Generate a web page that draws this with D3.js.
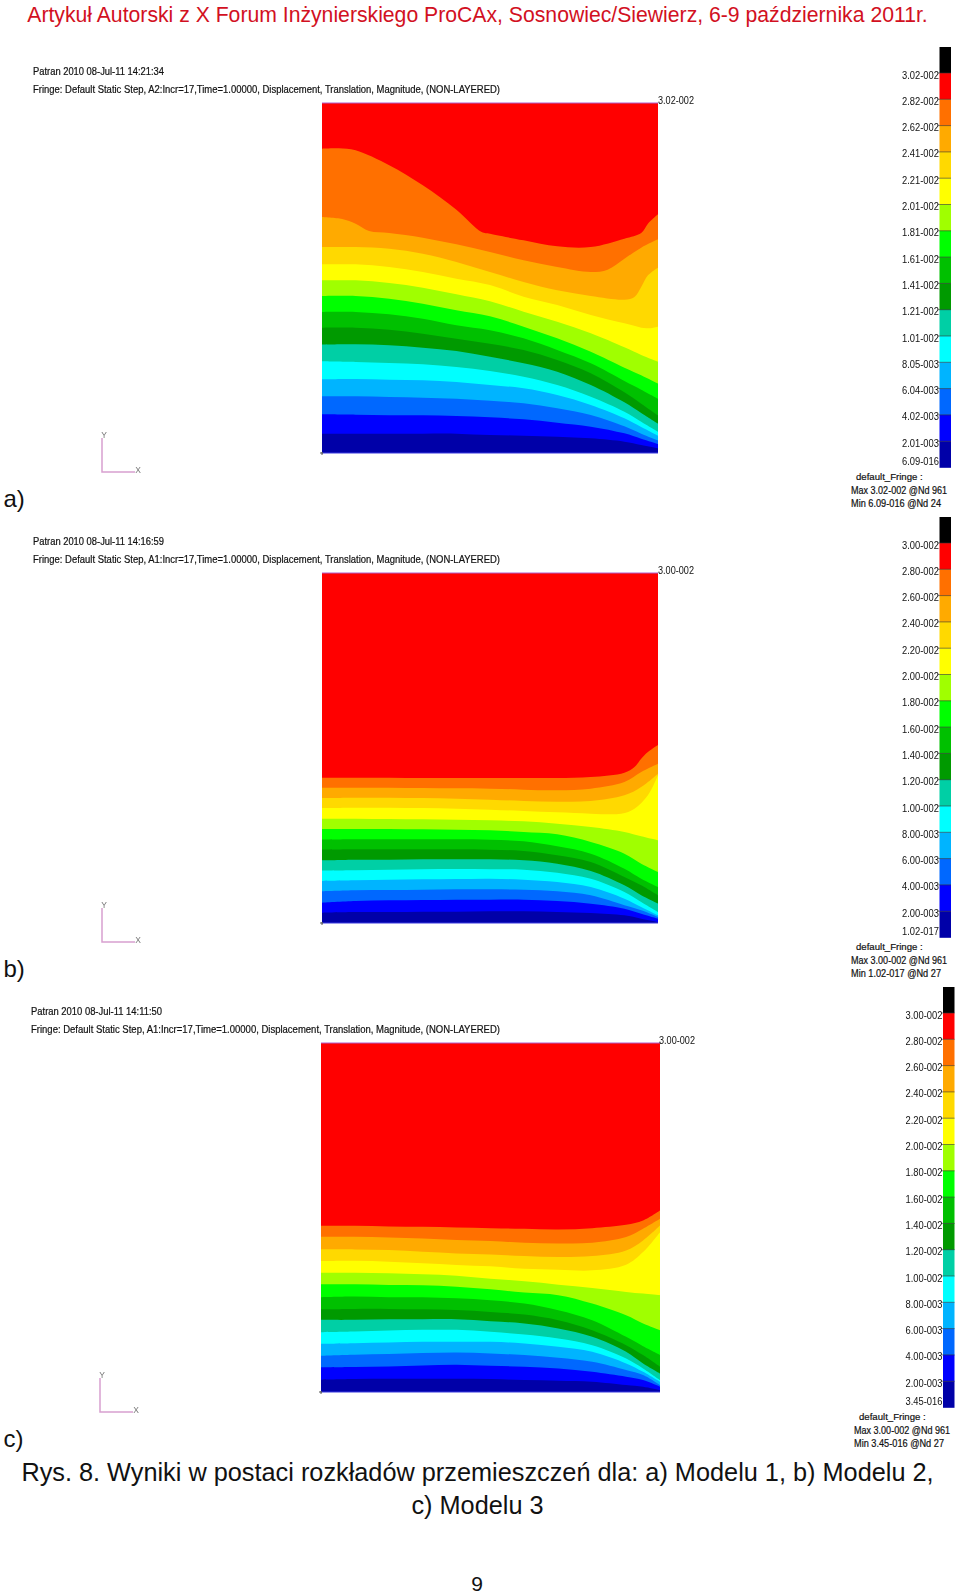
<!DOCTYPE html>
<html><head><meta charset="utf-8">
<script src="https://cdn.jsdelivr.net/npm/d3@7/dist/d3.min.js"></script>
<style>html,body{margin:0;padding:0;background:#fff}svg{display:block}text{font-family:"Liberation Sans",Arial,sans-serif}.soft{filter:blur(0.35px)}</style>
</head><body><div id="c"></div>
<script>
// ---------- data ----------
const fringeColours = ["#ff0000","#ff7000","#ffaa00","#ffd900","#ffff00","#a0ff00","#00ff00","#00c000","#009a00","#00cfa5","#00ffff","#00b4ff","#0068ff","#0000ff","#0000a8"];
const stations = [0,10,20,30,40,50,60,70,80,90,95,100];

// Model 1: contour heights (0..1050 model units) at stations along the width
const a1x = [0,5,10,20,30,40,47.5,50,60,70,80,90,95,97,100];
const a1y = [913,914,908,863,803,730,663,658,638,620,618,643,660,688,716];
const a2x = [0,6,10,14,20,30,40,50,60,70,80,85,90,95,100];
const a2y = [708,702,688,666,660,646,626,603,578,558,543,550,583,616,641];
const a3x = [0,10,20,30,40,50,60,70,80,90,93,95,97,100];
const a3y = [618,618,613,598,573,543,513,488,471,460,468,498,533,556];
const a4x = [0,10,20,30,40,50,60,70,80,90,96.5,100];
const a4y = [566,566,558,543,523,504,469,444,414,389,374,379];
const a5y = [518,518,510,496,476,455,424,394,359,317,294,274];
const a6y = [471,471,463,448,428,410,379,344,304,256,233,208];
const a7y = [423,423,416,403,383,368,344,309,269,216,190,163];
const a8y = [376,376,370,358,343,328,309,279,239,182,148,113];
const a9y = [325,326,323,316,306,289,269,244,204,152,120,88];
const a10y = [275,273,270,266,258,246,229,204,169,124,94,64];
const a11y = [221,222,220,218,213,204,194,174,144,104,78,52];
const a12y = [170,170,168,166,163,157,149,134,114,80,58,38];
const a13y = [116,115,113,113,111,107,101,91,79,59,43,27];
const a14y = [58,58,58,58,58,54,52,49,44,34,24,14];

// Model 2
const b1x = [0,10,20,30,40,50,60,70,80,90,93,95,97,100];
const b1y = [436,436,436,435,435,435,435,435,438,451,468,493,513,534];
const b2y = [406,406,406,405,404,403,400,398,403,423,453,478];
const b3y = [375,376,376,375,373,370,366,364,366,383,408,448];
const b4x = [0,10,20,30,40,50,60,70,80,89,93,97,100];
const b4y = [345,346,346,345,343,340,336,332,328,328,343,383,443];
const b5y = [313,313,312,311,310,308,305,298,288,273,260,248];
const b6y = [282,282,282,281,280,278,273,266,243,208,178,153];
const b7y = [250,251,251,251,251,250,245,230,208,163,133,108];
const b8y = [220,221,221,221,221,220,216,203,183,138,113,83];
const b9y = [188,190,190,191,191,191,188,178,156,113,83,58];
const b10y = [157,158,160,161,162,161,160,151,133,93,63,33];
const b11y = [126,128,130,131,132,133,130,123,108,73,48,23];
const b12y = [95,98,99,100,101,101,100,95,83,53,38,18];
const b13y = [61,66,68,69,70,70,70,66,58,43,28,13];
const b14y = [31,33,33,34,34,35,35,33,30,23,13,3];

// Model 3
const c1y = [500,500,498,497,495,493,491,489,493,503,516,546];
const c2y = [467,467,465,462,457,454,449,447,449,466,491,521];
const c3y = [429,429,427,422,417,414,409,406,409,426,456,501];
const c4y = [394,395,392,387,382,378,371,368,366,383,421,481];
const c5y = [359,359,357,354,350,341,333,323,313,301,296,291];
const c6y = [324,324,322,321,317,309,299,291,266,231,206,186];
const c7y = [285,287,285,285,282,276,266,246,216,166,138,112];
const c8y = [249,250,250,249,247,241,233,216,186,141,111,76];
const c9y = [217,217,219,219,219,213,206,191,166,121,86,56];
const c10y = [180,182,185,187,187,181,173,161,141,101,71,36];
const c11y = [145,147,149,151,151,151,146,136,121,86,61,31];
const c12y = [109,112,114,117,119,116,111,103,91,66,51,21];
const c13y = [74,75,77,80,82,79,76,71,61,46,36,16];
const c14y = [37,39,40,40,40,39,36,34,31,21,16,6];

const ticksA = ["3.02-002","2.82-002","2.62-002","2.41-002","2.21-002","2.01-002","1.81-002","1.61-002","1.41-002","1.21-002","1.01-002","8.05-003","6.04-003","4.02-003","2.01-003","6.09-016"];
const ticksB = ["3.00-002","2.80-002","2.60-002","2.40-002","2.20-002","2.00-002","1.80-002","1.60-002","1.40-002","1.20-002","1.00-002","8.00-003","6.00-003","4.00-003","2.00-003","1.02-017"];
const ticksC = ["3.00-002","2.80-002","2.60-002","2.40-002","2.20-002","2.00-002","1.80-002","1.60-002","1.40-002","1.20-002","1.00-002","8.00-003","6.00-003","4.00-003","2.00-003","3.45-016"];

const headerText = "Artykuł Autorski z X Forum Inżynierskiego ProCAx, Sosnowiec/Siewierz, 6-9 października 2011r.";
const captionLines = ["Rys. 8. Wyniki w postaci rozkładów przemieszczeń dla: a) Modelu 1, b) Modelu 2,","c) Modelu 3"];
const pageNumber = "9";

const panelsData = [
 {letter:"a)", stamp:"Patran 2010 08-Jul-11 14:21:34",
  fringe:"Fringe: Default Static Step, A2:Incr=17,Time=1.00000, Displacement, Translation, Magnitude, (NON-LAYERED)",
  ticks:ticksA, maxLabel:"3.02-002", maxLine:"Max 3.02-002 @Nd 961", minLine:"Min 6.09-016 @Nd 24",
  contours:[[a1x,a1y],[a2x,a2y],[a3x,a3y],[a4x,a4y],[stations,a5y],[stations,a6y],[stations,a7y],[stations,a8y],[stations,a9y],[stations,a10y],[stations,a11y],[stations,a12y],[stations,a13y],[stations,a14y]]},
 {letter:"b)", stamp:"Patran 2010 08-Jul-11 14:16:59",
  fringe:"Fringe: Default Static Step, A1:Incr=17,Time=1.00000, Displacement, Translation, Magnitude, (NON-LAYERED)",
  ticks:ticksB, maxLabel:"3.00-002", maxLine:"Max 3.00-002 @Nd 961", minLine:"Min 1.02-017 @Nd 27",
  contours:[[b1x,b1y],[stations,b2y],[stations,b3y],[b4x,b4y],[stations,b5y],[stations,b6y],[stations,b7y],[stations,b8y],[stations,b9y],[stations,b10y],[stations,b11y],[stations,b12y],[stations,b13y],[stations,b14y]]},
 {letter:"c)", stamp:"Patran 2010 08-Jul-11 14:11:50",
  fringe:"Fringe: Default Static Step, A1:Incr=17,Time=1.00000, Displacement, Translation, Magnitude, (NON-LAYERED)",
  ticks:ticksC, maxLabel:"3.00-002", maxLine:"Max 3.00-002 @Nd 961", minLine:"Min 3.45-016 @Nd 27",
  contours:[[stations,c1y],[stations,c2y],[stations,c3y],[stations,c4y],[stations,c5y],[stations,c6y],[stations,c7y],[stations,c8y],[stations,c9y],[stations,c10y],[stations,c11y],[stations,c12y],[stations,c13y],[stations,c14y]]}
];

// ---------- layout ----------
const layouts = [
 {x0:322,x1:658,top:103,bottom:453,stampX:33,stampY:75,fringeY:92.5,barX:939.5,barTop:47,labelDX:0,maxX:658,maxY:104,triX:102,triY:472,letterY:507},
 {x0:322,x1:658,top:573,bottom:923,stampX:33,stampY:545,fringeY:562.5,barX:939.5,barTop:517,labelDX:0,maxX:658,maxY:574,triX:102,triY:942,letterY:977},
 {x0:321,x1:660,top:1043,bottom:1392,stampX:31,stampY:1015,fringeY:1032.5,barX:943,barTop:987,labelDX:3,maxX:659,maxY:1044,triX:100,triY:1412,letterY:1447}
];

const W=960,H=1596;
const svg=d3.select("#c").append("svg").attr("width",W).attr("height",H).attr("viewBox",[0,0,W,H]);

svg.append("text").attr("x",477.5).attr("y",21.7).attr("text-anchor","middle")
  .attr("font-size",21.2).attr("fill","#d21022").text(headerText);

panelsData.forEach((p,i)=>{
  const L=layouts[i];
  const g=svg.append("g");
  const soft=g.append("g").attr("class","soft");
  const x=d3.scaleLinear().domain([0,100]).range([L.x0,L.x1]);
  const y=d3.scaleLinear().domain([0,1050]).range([L.bottom,L.top]);
  const clipId="clip"+i;
  g.append("clipPath").attr("id",clipId).append("rect")
    .attr("x",L.x0).attr("y",L.top).attr("width",L.x1-L.x0).attr("height",L.bottom-L.top);
  const field=soft.append("g").attr("clip-path",`url(#${clipId})`);
  field.append("rect").attr("x",L.x0).attr("y",L.top).attr("width",L.x1-L.x0).attr("height",L.bottom-L.top).attr("fill",fringeColours[0]);
  const area=d3.area().x(d=>x(d[0])).y0(y(0)).y1(d=>y(d[1])).curve(d3.curveCatmullRom.alpha(0.5));
  p.contours.forEach((c,k)=>{
    const pts=d3.zip(c[0],c[1]);
    field.append("path").attr("d",area(pts)).attr("fill",fringeColours[k+1]);
  });
  soft.append("line").attr("x1",L.x0).attr("x2",L.x1).attr("y1",L.top).attr("y2",L.top).attr("stroke","#b05cc8").attr("stroke-width",1);
  soft.append("line").attr("x1",L.x0).attr("x2",L.x1).attr("y1",L.bottom).attr("y2",L.bottom).attr("stroke","#3a3ae0").attr("stroke-width",1);
  soft.append("path").attr("d",`M${L.x0-2},${L.bottom}h3M${L.x0},${L.bottom-1}v3`).attr("stroke","#555").attr("fill","none");

  soft.append("text").attr("x",L.stampX).attr("y",L.stampY).attr("font-size",10).attr("fill","#111").attr("stroke","#111").attr("stroke-width",.2).attr("textLength",131).attr("lengthAdjust","spacingAndGlyphs").text(p.stamp);
  soft.append("text").attr("x",L.stampX).attr("y",L.fringeY).attr("font-size",10).attr("fill","#111").attr("stroke","#111").attr("stroke-width",.2).attr("textLength",L.stampX==33?467:469).attr("lengthAdjust","spacingAndGlyphs").text(p.fringe);
  soft.append("text").attr("x",L.maxX).attr("y",L.maxY).attr("font-size",10.5).attr("fill","#111").attr("textLength",36).attr("lengthAdjust","spacingAndGlyphs").text(p.maxLabel);

  soft.append("path").attr("d",`M${L.triX},${L.triY-34}V${L.triY}H${L.triX+33}`).attr("fill","none").attr("stroke","#d8a0d0").attr("stroke-width",1.5);
  soft.append("text").attr("x",L.triX+2).attr("y",L.triY-34).attr("text-anchor","middle").attr("font-size",8.5).attr("fill","#777").text("Y");
  soft.append("text").attr("x",L.triX+36).attr("y",L.triY+1).attr("text-anchor","middle").attr("font-size",8.5).attr("fill","#777").text("X");

  g.append("text").attr("x",3.5).attr("y",L.letterY).attr("font-size",24).attr("fill","#111").text(p.letter);

  // legend
  const bandH=26.3;
  const lg=soft.append("g");
  const ly=d3.scaleLinear().domain([1,16]).range([L.barTop+26,L.barTop+26+15*bandH]);
  const barW=11.5;
  lg.append("rect").attr("x",L.barX).attr("y",L.barTop).attr("width",barW).attr("height",26).attr("fill","#000");
  fringeColours.forEach((col,k)=>{
    lg.append("rect").attr("x",L.barX).attr("y",ly(k+1)).attr("width",barW).attr("height",bandH+0.3).attr("fill",col);
  });
  p.ticks.forEach((t,k)=>{
    const ty = ly(k+1);
    if(k<15) lg.append("line").attr("x1",L.barX-2).attr("x2",L.barX+barW).attr("y1",ty).attr("y2",ty).attr("stroke","#333").attr("stroke-opacity",.75).attr("stroke-width",.8);
    const labelY = k===15 ? L.barTop+418 : ty+5.5;
    lg.append("text").attr("x",L.barX-0.5).attr("y",labelY).attr("text-anchor","end").attr("font-size",10.5).attr("fill","#111")
      .attr("textLength",37).attr("lengthAdjust","spacingAndGlyphs").text(t);
  });
  const foot=g.append("g");
  foot.append("text").attr("x",857+L.labelDX-1).attr("y",L.barTop+432.6).attr("font-size",9.6).attr("fill","#111").attr("stroke","#111").attr("stroke-width",.2).text("default_Fringe :");
  foot.append("text").attr("x",852+L.labelDX-1).attr("y",L.barTop+447).attr("font-size",10).attr("fill","#111").attr("stroke","#111").attr("stroke-width",.2).attr("textLength",96).attr("lengthAdjust","spacingAndGlyphs").text(p.maxLine);
  foot.append("text").attr("x",852+L.labelDX-1).attr("y",L.barTop+459.5).attr("font-size",10).attr("fill","#111").attr("stroke","#111").attr("stroke-width",.2).attr("textLength",90).attr("lengthAdjust","spacingAndGlyphs").text(p.minLine);
});

svg.selectAll("text.caption").data(captionLines).join("text").attr("class","caption")
  .attr("x",477.5).attr("y",(d,i)=>1481+i*33).attr("text-anchor","middle").attr("font-size",25.3).attr("fill","#111").text(d=>d);
svg.append("text").attr("x",477).attr("y",1591).attr("text-anchor","middle").attr("font-size",21).attr("fill","#111").text(pageNumber);
</script></body></html>
